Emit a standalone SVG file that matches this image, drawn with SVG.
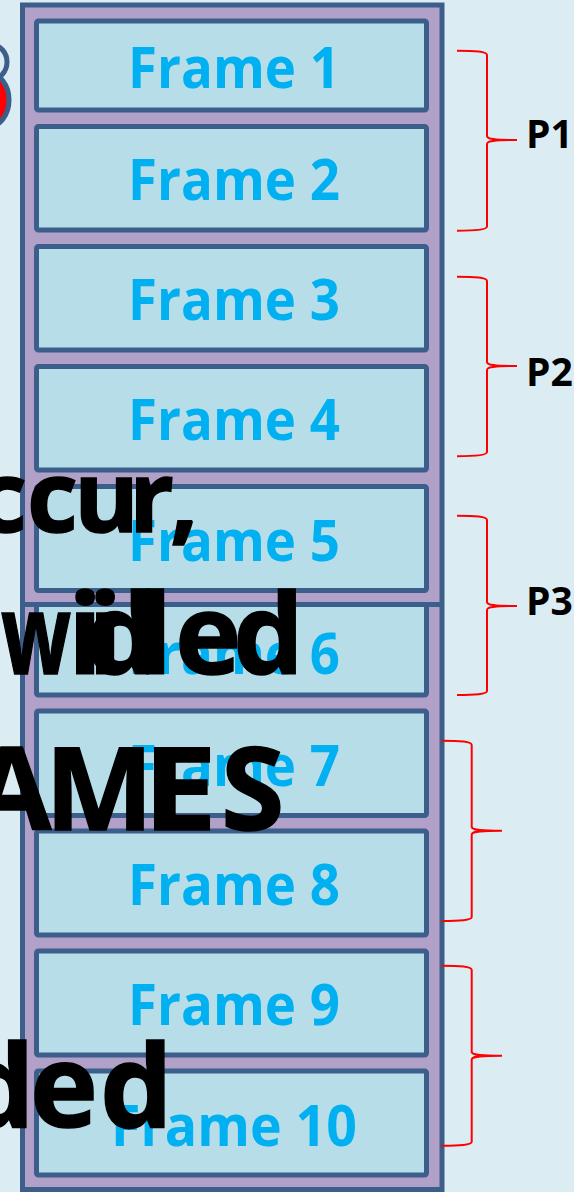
<svg xmlns="http://www.w3.org/2000/svg" width="574" height="1192" viewBox="0 0 574 1192">
<defs>
<style>
.frame{fill:#b7dde8;stroke:#3c5e8b;stroke-width:5}
.outer{fill:#b1a0c7;stroke:#3c5e8b;stroke-width:5}
.ftxt{font-family:"Open Sans","Noto Sans",sans-serif;font-weight:700;font-size:57px;fill:#00b0f0;text-anchor:middle}
.big{font-family:"Open Sans","Noto Sans",sans-serif;font-weight:700;fill:#000;stroke:#000;stroke-width:1.5}
.brace{fill:none;stroke:#ff0000;stroke-width:2}
.plab{font-family:"Open Sans","Noto Sans",sans-serif;font-weight:700;font-size:39px;fill:#000}
</style>
</defs>
<rect x="0" y="0" width="574" height="1192" fill="#dbedf3"/>
<g id="corner-shape">
<ellipse cx="-8" cy="62" rx="15" ry="17" fill="none" stroke="#3c5e8b" stroke-width="5"/>
<ellipse cx="-12" cy="100" rx="21" ry="27" fill="#ff0000" stroke="#3c5e8b" stroke-width="5"/>
</g>
<g id="memory">
<rect class="outer" x="22.5" y="5" width="419.5" height="1184.5"/>
<line x1="22.5" y1="604.5" x2="442" y2="604.5" stroke="#3c5e8b" stroke-width="5"/>
</g>
<g id="frame1"><rect class="frame" x="36.5" y="21" width="390" height="89" rx="2"/><text class="ftxt" x="234" y="88" textLength="212" lengthAdjust="spacingAndGlyphs">Frame 1</text></g>
<g id="frame2"><rect class="frame" x="36.5" y="126.5" width="390" height="103.5" rx="2"/><text class="ftxt" x="234" y="200" textLength="212" lengthAdjust="spacingAndGlyphs">Frame 2</text></g>
<g id="frame3"><rect class="frame" x="36.5" y="246.5" width="390" height="103.5" rx="2"/><text class="ftxt" x="234" y="320" textLength="212" lengthAdjust="spacingAndGlyphs">Frame 3</text></g>
<g id="frame4"><rect class="frame" x="36.5" y="366.5" width="390" height="103.5" rx="2"/><text class="ftxt" x="234" y="440" textLength="212" lengthAdjust="spacingAndGlyphs">Frame 4</text></g>
<g id="frame5"><rect class="frame" x="36.5" y="486.5" width="390" height="104" rx="2"/><text class="ftxt" x="234" y="561" textLength="212" lengthAdjust="spacingAndGlyphs">Frame 5</text></g>
<g id="frame6"><rect class="frame" x="36.5" y="604.5" width="390" height="90.5" rx="2"/><text class="ftxt" x="234" y="674" textLength="212" lengthAdjust="spacingAndGlyphs">Frame 6</text></g>
<g id="frame7"><rect class="frame" x="36.5" y="711" width="390" height="104.5" rx="2"/><text class="ftxt" x="234" y="786" textLength="212" lengthAdjust="spacingAndGlyphs">Frame 7</text></g>
<g id="frame8"><rect class="frame" x="36.5" y="831" width="390" height="104" rx="2"/><text class="ftxt" x="234" y="905" textLength="212" lengthAdjust="spacingAndGlyphs">Frame 8</text></g>
<g id="frame9"><rect class="frame" x="36.5" y="951" width="390" height="104" rx="2"/><text class="ftxt" x="234" y="1025" textLength="212" lengthAdjust="spacingAndGlyphs">Frame 9</text></g>
<g id="frame10"><rect class="frame" x="36.5" y="1071" width="390" height="104" rx="2"/><text class="ftxt" x="234" y="1146" textLength="246" lengthAdjust="spacingAndGlyphs">Frame 10</text></g>
<g id="connectors">
<path class="brace" d="M457,50.7 C475,50.7 487,51.5 487,55 L487,136 C487,139 492,140 517,140 C492,140 487,141 487,144 L487,226.5 C487,229.8 475,230.7 457,230.7"/>
<path class="brace" d="M457,276.7 C475,276.7 487,277.5 487,281 L487,362 C487,365 492,366 517,366 C492,366 487,367 487,370 L487,452 C487,455.3 475,456.2 457,456.2"/>
<path class="brace" d="M457,515.7 C475,515.7 487,516.5 487,520 L487,602 C487,605 492,606 517,606 C492,606 487,607 487,610 L487,691 C487,694.2 475,695 457,695"/>
<path class="brace" d="M441.7,740.7 C460,740.7 471.7,741.5 471.7,745 L471.7,826.7 C471.7,829.7 477,830.7 502,830.7 C477,830.7 471.7,831.7 471.7,834.7 L471.7,917 C471.7,920.2 460,921 441.7,921"/>
<path class="brace" d="M441.7,965.7 C460,965.7 471.7,966.5 471.7,970 L471.7,1051.7 C471.7,1054.7 477,1055.7 502,1055.7 C477,1055.7 471.7,1056.7 471.7,1059.7 L471.7,1141.7 C471.7,1144.9 460,1145.7 441.7,1145.7"/>
</g>
<g id="labels">
<text class="plab" x="526" y="148">P1</text>
<text class="plab" x="526" y="386">P2</text>
<text class="plab" x="526" y="615">P3</text>
</g>
<g id="overlay-text">
<text class="big" font-size="99" x="-24 27 74 129 170" y="532">ccur,</text>
<text class="big" font-size="112" x="1" y="674" textLength="70" lengthAdjust="spacingAndGlyphs">w</text>
<text class="big" font-size="112" x="68 88 86 138 175 233" y="674">iidled</text>
<text class="big" font-size="115" x="-28 45" y="830">AM</text>
<text class="big" font-size="115" x="143" y="830" textLength="74" lengthAdjust="spacingAndGlyphs">E</text>
<text class="big" font-size="115" x="221" y="830">S</text>
<text class="big" font-size="115" x="-38 30 100" y="1127">ded</text>
</g>
</svg>
